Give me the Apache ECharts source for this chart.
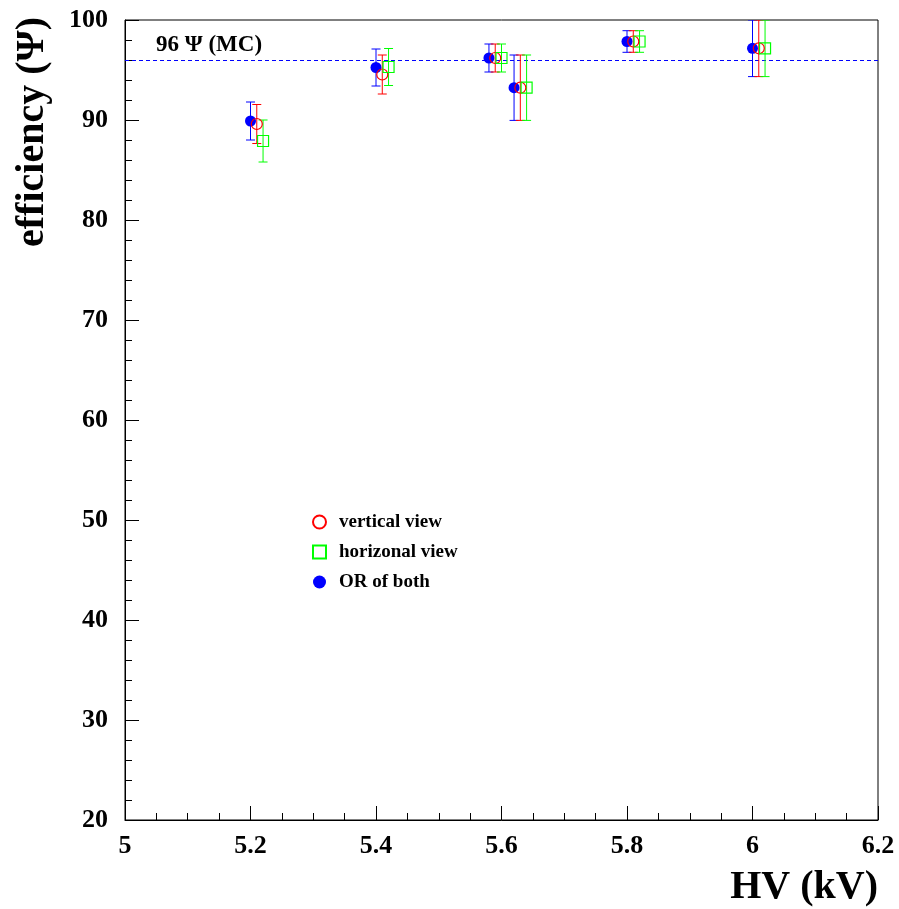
<!DOCTYPE html>
<html>
<head>
<meta charset="utf-8">
<script src="https://cdn.jsdelivr.net/npm/echarts@6/dist/echarts.min.js"></script>
<style>
html,body{margin:0;padding:0;background:#fff;}
#chart{width:899px;height:909px;}
</style>
</head>
<body>
<div id="chart"></div>
<script>
// ---- data ----
const hvVert = [5.21, 5.41, 5.59, 5.63, 5.81, 6.01];
const effVert = [89.6, 94.55, 96.2, 93.23, 97.85, 97.17];
const errVert = [1.95, 1.95, 1.4, 3.27, 1.08, 2.83];

const hvHor = [5.22, 5.42, 5.60, 5.64, 5.82, 6.02];
const effHor = [87.9, 95.3, 96.2, 93.23, 97.85, 97.17];
const errHor = [2.1, 1.85, 1.4, 3.27, 1.08, 2.83];

const hvOr = [5.20, 5.40, 5.58, 5.62, 5.80, 6.00];
const effOr = [89.9, 95.25, 96.2, 93.23, 97.85, 97.17];
const errOr = [1.9, 1.85, 1.4, 3.27, 1.08, 2.83];

const mcLevel = 96;
const mcLabel = '96 Ψ (MC)';
const seriesNames = ['vertical view', 'horizonal view', 'OR of both'];
const xTitle = 'HV (kV)';
const yTitle = 'efficiency (Ψ)';

const FONT = "'Liberation Serif','Times New Roman',serif";
const BLUE = '#0000ff', RED = '#ff0000', GREEN = '#00ff00';

function zip(xs, ys, es) { return xs.map((x, i) => [x, ys[i], es[i]]); }

function errSeries(name, data, color, z) {
  return {
    type: 'custom',
    name: name + ' err',
    data: data,
    clip: true,
    silent: true,
    z: z,
    renderItem: function (params, api) {
      const x = api.value(0), y = api.value(1), e = api.value(2);
      const t = api.coord([x, y + e]);
      const b = api.coord([x, y - e]);
      const hw = 4.5;
      const st = { stroke: color, lineWidth: 1, fill: null };
      return {
        type: 'group',
        children: [
          { type: 'line', shape: { x1: t[0], y1: t[1], x2: b[0], y2: b[1] }, style: st },
          { type: 'line', shape: { x1: t[0] - hw, y1: t[1], x2: t[0] + hw, y2: t[1] }, style: st },
          { type: 'line', shape: { x1: b[0] - hw, y1: b[1], x2: b[0] + hw, y2: b[1] }, style: st }
        ]
      };
    }
  };
}

const chart = echarts.init(document.getElementById('chart'), null, { renderer: 'canvas' });

const option = {
  animation: false,
  backgroundColor: '#ffffff',
  grid: {
    left: 125, right: 21, top: 20, bottom: 89,
    show: true, borderColor: '#000', borderWidth: 1
  },
  xAxis: {
    type: 'value', min: 5, max: 6.2, interval: 0.2,
    axisLine: { show: true, onZero: false, lineStyle: { color: '#000', width: 1 } },
    axisTick: { show: true, inside: true, length: 14, lineStyle: { color: '#000' } },
    minorTick: { show: true, splitNumber: 4, length: 7, lineStyle: { color: '#000' } },
    splitLine: { show: false },
    axisLabel: {
      color: '#000', fontFamily: FONT, fontWeight: 'bold', fontSize: 26, margin: 13,
      formatter: v => String(Math.round(v * 10) / 10)
    }
  },
  yAxis: {
    type: 'value', min: 20, max: 100, interval: 10,
    axisLine: { show: true, onZero: false, lineStyle: { color: '#000', width: 1 } },
    axisTick: { show: true, inside: true, length: 14, lineStyle: { color: '#000' } },
    minorTick: { show: true, splitNumber: 5, length: 7, lineStyle: { color: '#000' } },
    splitLine: { show: false },
    axisLabel: { color: '#000', fontFamily: FONT, fontWeight: 'bold', fontSize: 26, margin: 17 }
  },
  legend: {
    orient: 'vertical',
    left: 307, top: 507,
    itemWidth: 13, itemHeight: 13, itemGap: 10,
    data: seriesNames,
    textStyle: { color: '#000', fontFamily: FONT, fontWeight: 'bold', fontSize: 19, lineHeight: 20, padding: [0, 0, 0, 8] },
    selectedMode: false
  },
  graphic: [
    {
      type: 'text', x: 33, y: 17, rotation: Math.PI / 2,
      style: { text: yTitle, fill: '#000', font: 'bold 40px ' + FONT, align: 'right', verticalAlign: 'middle' }
    },
    {
      type: 'text', x: 878, y: 888,
      style: { text: xTitle, fill: '#000', font: 'bold 40px ' + FONT, align: 'right', verticalAlign: 'middle' }
    }
  ],
  series: [
    errSeries(seriesNames[2], zip(hvOr, effOr, errOr), BLUE, 2),
    errSeries(seriesNames[0], zip(hvVert, effVert, errVert), RED, 3),
    errSeries(seriesNames[1], zip(hvHor, effHor, errHor), GREEN, 4),
    {
      type: 'scatter', name: seriesNames[0], data: zip(hvVert, effVert, errVert),
      symbol: 'circle', symbolSize: 11, z: 6,
      itemStyle: { color: 'rgba(255,255,255,0)', borderColor: RED, borderWidth: 1.2, opacity: 1 }
    },
    {
      type: 'scatter', name: seriesNames[1], data: zip(hvHor, effHor, errHor),
      symbol: 'rect', symbolSize: 11, z: 7,
      itemStyle: { color: 'rgba(255,255,255,0)', borderColor: GREEN, borderWidth: 1.2, opacity: 1 }
    },
    {
      type: 'scatter', name: seriesNames[2], data: zip(hvOr, effOr, errOr),
      symbol: 'circle', symbolSize: 11, z: 5,
      itemStyle: { color: BLUE, opacity: 1 },
      markLine: {
        silent: true, symbol: 'none', z: 1,
        lineStyle: { color: BLUE, type: [4, 3], width: 1 },
        label: {
          show: true, position: 'insideStartTop', formatter: mcLabel,
          color: '#000', fontFamily: FONT, fontWeight: 'bold', fontSize: 23,
          padding: [0, 0, 0, 28], distance: 3
        },
        data: [{ yAxis: mcLevel }]
      }
    }
  ]
};
chart.setOption(option);
</script>
</body>
</html>
